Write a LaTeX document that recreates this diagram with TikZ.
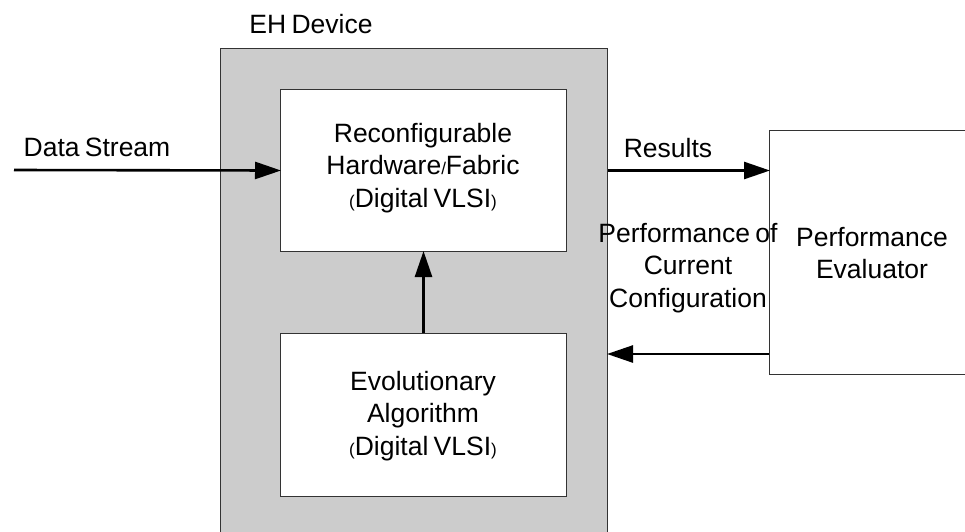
\documentclass[tikz,border=0pt]{standalone}
\usepackage{fontspec}
\setmainfont{Liberation Sans}
\usetikzlibrary{arrows.meta}
\newcommand{\sm}[1]{{\fontsize{17}{17}\selectfont #1}}
\newcommand{\labelfont}{\fontsize{26.5}{32.5}\selectfont\spaceskip=0.2em\relax}
\begin{document}
\begin{tikzpicture}[x=1pt,y=-1pt,
  every node/.style={font=\labelfont},
  blockbox/.style={draw=black!80, line width=1pt, fill=white, inner sep=0pt,
    anchor=north west, align=center},
  devbox/.style={draw=black!80, line width=1pt, fill=black!20, inner sep=0pt,
    anchor=north west},
  lbl/.style={inner sep=0pt, align=center},
  arr/.style={line width=2.6pt, -{Triangle[length=26pt,width=17pt]}, shorten >=-1pt}
]
\useasboundingbox (0,0) rectangle (965,531);
\clip (0,0) rectangle (965,531);

% evolvable hardware device and its two blocks
\node[devbox, minimum width=387pt, minimum height=500pt] (eh) at (220,48) {};
\node[lbl, anchor=base] (ehl) at (311,33) {EH Device};

\node[blockbox, minimum width=286pt, minimum height=162pt] (recon) at (280,89) {};
\node[lbl] (reconl) at (423,168) {Reconfigurable\\Hardware\sm{/}Fabric\\\sm{(}Digital VLSI\sm{)}};

\node[blockbox, minimum width=286pt, minimum height=163pt] (evo) at (280,333) {};
\node[lbl] (evol) at (423,416) {Evolutionary\\Algorithm\\\sm{(}Digital VLSI\sm{)}};

% external evaluator
\node[blockbox, minimum width=230pt, minimum height=244pt] (pe) at (769,130) {};
\node[lbl] (pel) at (872,253) {Performance\\Evaluator};

% connectors
\coordinate (ds) at (14,170);
\coordinate (fb) at (0,354);
\draw[arr] (ds) -- (recon.west);
\node[lbl, anchor=base] (dsl) at (97,156) {Data Stream};

\draw[arr] (recon.east -| eh.east) -- (recon.east -| pe.west);
\node[lbl, anchor=base] (resl) at (668,157) {Results};

\draw[arr] (evo.north) -- (recon.south);

\draw[arr] (pe.west |- fb) -- (eh.east |- fb);
\node[lbl] (perfl) at (688,268) {Performance of\\Current\\Configuration};
\end{tikzpicture}
\end{document}
